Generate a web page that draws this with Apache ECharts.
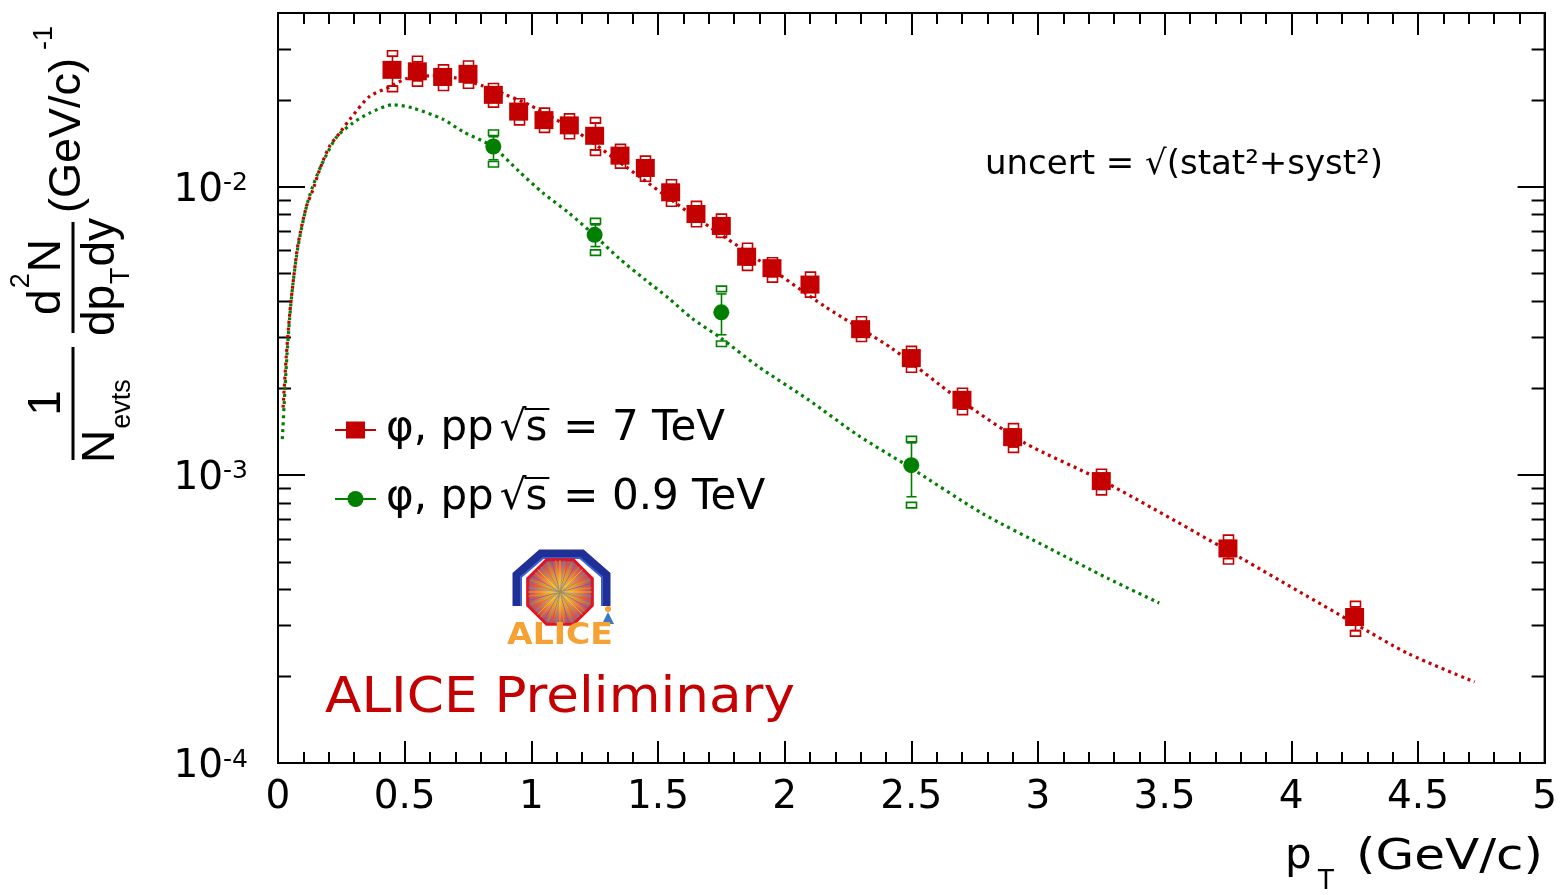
<!DOCTYPE html>
<html>
<head>
<meta charset="utf-8">
<script src="https://cdn.jsdelivr.net/npm/echarts@6/dist/echarts.min.js"></script>
<style>
  html, body { margin: 0; padding: 0; background: #fff; }
  #chart { width: 1560px; height: 895px; }
</style>
</head>
<body>
<div id="chart"></div>
<script>
// phi-meson transverse-momentum spectra in pp collisions, 7 TeV and 0.9 TeV

// --- pp at 7 TeV: bin centres, yields and total uncertainty limits ---
const ptBins7 = [0.45, 0.55, 0.65, 0.75, 0.85, 0.95, 1.05, 1.15, 1.25, 1.35, 1.45, 1.55,
                 1.65, 1.75, 1.85, 1.95, 2.1, 2.3, 2.5, 2.7, 2.9, 3.25, 3.75, 4.25];
const yield7 = [0.0254, 0.0251, 0.0240, 0.0246, 0.0208, 0.0182, 0.0170, 0.0163, 0.0150, 0.0128, 0.0116, 0.00955,
                0.00803, 0.00730, 0.00571, 0.00521, 0.00457, 0.00320, 0.00254, 0.00182, 0.00135, 0.000951, 0.000555, 0.000321];
const errHi7 = [0.0283, 0.0271, 0.0253, 0.0261, 0.0218, 0.0193, 0.0179, 0.0171, 0.0166, 0.0134, 0.0122, 0.0101,
                0.00850, 0.00768, 0.00608, 0.00542, 0.00483, 0.00338, 0.00267, 0.00191, 0.00144, 0.00100, 0.000591, 0.000348];
const errLo7 = [0.0223, 0.0233, 0.0225, 0.0229, 0.0197, 0.0171, 0.0161, 0.0153, 0.0134, 0.0121, 0.0109, 0.00893,
                0.00758, 0.00696, 0.00535, 0.00487, 0.00432, 0.00303, 0.00237, 0.00169, 0.00125, 0.000890, 0.000512, 0.000288];

// --- pp at 0.9 TeV: statistical limits and combined (stat+syst) limits ---
const ptBins09 = [0.85, 1.25, 1.75, 2.5];
const yield09 = [0.01377, 0.00680, 0.00366, 0.00108];
const statHi09 = [0.01488, 0.00736, 0.00424, 0.00129];
const statLo09 = [0.01238, 0.00619, 0.00306, 0.000839];
const totHi09 = [0.01503, 0.00742, 0.00432, 0.00130];
const totLo09 = [0.01221, 0.00603, 0.00291, 0.000802];

// --- fitted spectra (dotted curves) ---
const fitPt7 = [0.02, 0.033, 0.046, 0.059, 0.079, 0.112, 0.138, 0.164, 0.203, 0.243, 0.282, 0.361, 0.44, 0.506,
                0.61, 0.703, 0.807, 0.899, 0.991, 1.188, 1.372, 1.634, 1.897, 2.16, 2.422, 2.684, 2.947, 3.25,
                3.746, 4.249, 4.46, 4.724];
const fitY7 = [0.00171, 0.0026, 0.0036, 0.0046, 0.0063, 0.00852, 0.00974, 0.01143, 0.01377, 0.01532, 0.01704,
               0.02054, 0.02213, 0.02366, 0.02424, 0.02379, 0.02238, 0.02082, 0.01922, 0.01532, 0.01173, 0.00798,
               0.00556, 0.00383, 0.00275, 0.00184, 0.00129, 0.000958, 0.000548, 0.000305, 0.00024, 0.000191];
const fitPt09 = [0.017, 0.033, 0.046, 0.059, 0.079, 0.112, 0.137, 0.17, 0.23, 0.295, 0.361, 0.453, 0.532, 0.65,
                 0.729, 0.847, 0.952, 1.044, 1.149, 1.247, 1.346, 1.451, 1.542, 1.634, 1.746, 1.897, 2.094, 2.29,
                 2.488, 2.781, 3.046, 3.276, 3.479];
const fitY09 = [0.00133, 0.0024, 0.0035, 0.0046, 0.0062, 0.0085, 0.0100, 0.0118, 0.0148, 0.0166, 0.01798, 0.01922,
                0.01872, 0.01714, 0.01552, 0.01377, 0.01127, 0.00953, 0.00809, 0.0068, 0.00564, 0.00474, 0.0041,
                0.00349, 0.00299, 0.00237, 0.00182, 0.00137, 0.00107, 0.000734, 0.000555, 0.000437, 0.000359];

// --- axes ---
const xMin = 0, xMax = 5, xStep = 0.5;
const yMin = 1e-4, yMax = 0.04;
const yMinorTicks = [2e-4, 3e-4, 4e-4, 5e-4, 6e-4, 7e-4, 8e-4, 9e-4,
                     2e-3, 3e-3, 4e-3, 5e-3, 6e-3, 7e-3, 8e-3, 9e-3,
                     2e-2, 3e-2];

const RED = '#c40000';
const GREEN = '#007f00';
const FONT = '"DejaVu Sans", sans-serif';
const TFONT = '"Liberation Sans", Arial, sans-serif';

const chart = echarts.init(document.getElementById('chart'), null, { renderer: 'canvas' });

// vertical uncertainty bar: line with caps at the stat limits, open boxes beyond the total limits
function errorBar(params, api) {
  const x = api.value(0);
  const p = api.coord([x, api.value(1)]);
  const sLo = api.coord([x, api.value(2)])[1];
  const sHi = api.coord([x, api.value(3)])[1];
  const tLo = api.coord([x, api.value(4)])[1];
  const tHi = api.coord([x, api.value(5)])[1];
  const color = api.visual('color');
  const cx = Math.round(p[0]) + 0.5;
  const hw = 5, bh = 5.5;
  const st = { stroke: color, lineWidth: 1.6, fill: null };
  return {
    type: 'group',
    children: [
      { type: 'line', shape: { x1: cx, y1: sHi, x2: cx, y2: sLo }, style: st },
      { type: 'line', shape: { x1: cx - hw, y1: sHi, x2: cx + hw, y2: sHi }, style: st },
      { type: 'line', shape: { x1: cx - hw, y1: sLo, x2: cx + hw, y2: sLo }, style: st },
      { type: 'rect', shape: { x: cx - hw, y: tHi - bh, width: 2 * hw, height: bh }, style: st },
      { type: 'rect', shape: { x: cx - hw, y: tLo, width: 2 * hw, height: bh }, style: st }
    ]
  };
}

// logarithmic minor ticks on both vertical frame edges
function minorLogTick(params, api) {
  const cs = params.coordSys;
  const y = Math.round(api.coord([xMin, api.value(1)])[1]) + 0.5;
  const len = 13;
  const st = { stroke: '#000', lineWidth: 2 };
  return {
    type: 'group',
    children: [
      { type: 'line', shape: { x1: cs.x, y1: y, x2: cs.x + len, y2: y }, style: st },
      { type: 'line', shape: { x1: cs.x + cs.width - len, y1: y, x2: cs.x + cs.width, y2: y }, style: st }
    ]
  };
}

const data7 = ptBins7.map((x, i) => [x, yield7[i], errLo7[i], errHi7[i], errLo7[i], errHi7[i]]);
const data09 = ptBins09.map((x, i) => [x, yield09[i], statLo09[i], statHi09[i], totLo09[i], totHi09[i]]);
const fit7 = fitPt7.map((x, i) => [x, fitY7[i]]);
const fit09 = fitPt09.map((x, i) => [x, fitY09[i]]);

// ---------- text helpers ----------
const mctx = document.createElement('canvas').getContext('2d');
function tw(str, font) { mctx.font = font; return mctx.measureText(str).width; }
function fontStr(size, fam, weight) { return (weight ? weight + ' ' : '') + size + 'px ' + fam; }
// text with its alphabetic baseline at y (glyph middle sits ~0.346em above baseline)
function txt(str, x, baseline, size, fam, color, extra) {
  const el = Object.assign({
    type: 'text', x: x, y: baseline - 0.346 * size, silent: true,
    style: {
      text: str, font: fontStr(size, fam, extra && extra.weight), fill: color || '#000',
      align: 'left', verticalAlign: 'middle', textAlign: 'left', textVerticalAlign: 'middle'
    }
  }, extra && extra.el ? extra.el : {});
  return el;
}
// text stretched horizontally so it spans the given width
function fitTxt(str, x, baseline, size, fam, color, width, weight) {
  const w = tw(str, fontStr(size, fam, weight));
  return txt(str, x, baseline, size, fam, color, { weight: weight, el: { scaleX: width / w } });
}

// ---------- legend ----------
function legendRow(yc, baseline, marker, color, tail) {
  const F = 42;
  const f = fontStr(F, FONT);
  const els = [];
  els.push({ type: 'line', silent: true, shape: { x1: 335, y1: yc, x2: 376, y2: yc }, style: { stroke: color, lineWidth: 2 } });
  if (marker === 'rect') {
    els.push({ type: 'rect', silent: true, shape: { x: 346, y: yc - 8.5, width: 19, height: 17 }, style: { fill: color } });
  } else {
    els.push({ type: 'circle', silent: true, shape: { cx: 355.5, cy: yc, r: 8 }, style: { fill: color } });
  }
  let x = 386;
  const head = 'φ, pp';
  els.push(txt(head, x, baseline, F, FONT));
  x += tw(head, f) + 6;
  els.push(txt('√', x, baseline, F, FONT));
  const sx = x + tw('√', f) - 1;
  els.push(txt('s', sx, baseline, F, FONT));
  const sEnd = sx + tw('s', f);
  els.push({ type: 'line', silent: true, shape: { x1: sx - 1, y1: baseline - 35, x2: sEnd + 2, y2: baseline - 35 }, style: { stroke: '#000', lineWidth: 2 } });
  els.push(txt(tail, sEnd + 16, baseline, F, FONT));
  return els;
}

// ---------- rotated y-axis title ----------
function yTitle() {
  // local frame of the rotated group: local x = -screenY, local y = screenX
  const g = [];
  const F = 46, S = 27;
  const put = (str, sy, sx, size, align) => ({
    type: 'text', x: -sy, y: sx - 0.346 * size, silent: true,
    style: { text: str, font: fontStr(size, TFONT), fill: '#000', align: align || 'left', verticalAlign: 'middle',
             textAlign: align || 'left', textVerticalAlign: 'middle' }
  });
  const fW = (s, size) => tw(s, fontStr(size, TFONT));
  // 1 / N_evts
  g.push(put('1', 403, 63, F, 'center'));
  g.push({ type: 'line', silent: true, shape: { x1: -460, y1: 73, x2: -347, y2: 73 }, style: { stroke: '#000', lineWidth: 3 } });
  let sy = 463;
  g.push(put('N', sy, 117, F)); sy -= fW('N', F) + 1;
  g.push(put('evts', sy, 132, S));
  // d2N / dpT dy
  g.push({ type: 'line', silent: true, shape: { x1: -333, y1: 73, x2: -222, y2: 73 }, style: { stroke: '#000', lineWidth: 3 } });
  const numW = fW('d', F) + fW('2', S) + fW('N', F) + 2;
  sy = 277 + numW / 2;
  g.push(put('d', sy, 63, F)); sy -= fW('d', F) + 1;
  g.push(put('2', sy, 31, S)); sy -= fW('2', S) + 1;
  g.push(put('N', sy, 63, F));
  const denW = fW('dp', F) + fW('T', S) + fW('dy', F) + 2;
  sy = 277 + denW / 2;
  g.push(put('dp', sy, 117, F)); sy -= fW('dp', F) + 1;
  g.push(put('T', sy, 131, S)); sy -= fW('T', S) + 1;
  g.push(put('dy', sy, 117, F));
  // (GeV/c)^-1
  g.push(put('(GeV/c)', 213, 83, 45));
  g.push(put('-1', 50, 54, S));
  return { type: 'group', x: 0, y: 0, rotation: Math.PI / 2, children: g };
}

// ---------- experiment logo ----------
function logo() {
  const cx = 560, cy = 592, r = 35;
  const els = [];
  // outer hood
  els.push({ type: 'polyline', silent: true,
    shape: { points: [[517, 606], [517, 575], [541, 554], [582, 554], [606, 575], [606, 606]] },
    style: { stroke: '#1f2f96', lineWidth: 9, fill: null, lineJoin: 'miter' } });
  els.push({ type: 'polyline', silent: true,
    shape: { points: [[521, 606], [521, 577], [543, 558], [580, 558], [602, 577], [602, 606]] },
    style: { stroke: '#3a5fd0', lineWidth: 2, fill: null } });
  // octagonal detector face
  const oct = [];
  for (let k = 0; k < 8; k++) {
    const a = Math.PI / 8 + k * Math.PI / 4;
    oct.push([cx + r * Math.cos(a), cy + r * Math.sin(a)]);
  }
  els.push({ type: 'polygon', silent: true, shape: { points: oct },
    style: {
      fill: new echarts.graphic.RadialGradient(0.5, 0.5, 0.62, [
        { offset: 0, color: '#ffe14a' }, { offset: 0.3, color: '#f7a838' },
        { offset: 0.62, color: '#d8604a' }, { offset: 1, color: '#4a4fc8' }]),
      stroke: '#e4141e', lineWidth: 3
    } });
  const rayCols = ['#f7d21e', '#3aa0e6', '#e8452a', '#7cc43a', '#5050d8', '#f59a1e'];
  for (let k = 0; k < 48; k++) {
    const a = k * Math.PI * 2 / 48;
    els.push({ type: 'line', silent: true,
      shape: { x1: cx, y1: cy, x2: cx + (r - 3) * Math.cos(a), y2: cy + (r - 3) * Math.sin(a) },
      style: { stroke: rayCols[k % rayCols.length], lineWidth: 1, opacity: 0.6 } });
  }
  // small figure at the corner
  els.push({ type: 'circle', silent: true, shape: { cx: 608, cy: 609, r: 3 }, style: { fill: '#f4a13a' } });
  els.push({ type: 'polygon', silent: true, shape: { points: [[608, 612], [602, 624], [614, 624]] }, style: { fill: '#3c78c8' } });
  els.push(fitTxt('ALICE', 507, 647, 31, FONT, '#f6a134', 106, 'bold'));
  return els;
}

function buildGraphics() {
  let g = [];
  g = g.concat(legendRow(430, 444, 'rect', RED, '= 7 TeV'));
  g = g.concat(legendRow(499, 513, 'circle', GREEN, '= 0.9 TeV'));
  g = g.concat(logo());
  g.push(fitTxt('ALICE Preliminary', 325, 716, 49, FONT, RED, 470));
  g.push(fitTxt('uncert = √(stat²+syst²)', 985, 177, 34, FONT, '#000', 398));
  g.push(yTitle());
  // x-axis title: p_T (GeV/c)
  g.push(txt('p', 1285, 872, 42, FONT));
  g.push(txt('T', 1318, 891, 26, FONT));
  g.push(fitTxt('(GeV/c)', 1356, 873, 42, FONT, '#000', 187));
  return g;
}

const axisCommon = {
  axisLine: { show: true, onZero: false, lineStyle: { color: '#000', width: 2 } },
  splitLine: { show: false }
};

const option = {
  animation: false,
  backgroundColor: '#fff',
  grid: { left: 278, right: 12, top: 13, bottom: 132, show: true, borderColor: '#000', borderWidth: 2, backgroundColor: 'transparent' },
  xAxis: [
    Object.assign({
      type: 'value', min: xMin, max: xMax, interval: xStep, position: 'bottom',
      axisTick: { show: true, inside: true, length: 22, lineStyle: { color: '#000', width: 2 } },
      minorTick: { show: true, splitNumber: 5, length: 11, lineStyle: { color: '#000', width: 2 } },
      axisLabel: { show: true, margin: 15, fontFamily: 'DejaVu Sans', fontSize: 39, color: '#000',
        formatter: v => String(v) }
    }, axisCommon),
    Object.assign({
      type: 'value', min: xMin, max: xMax, interval: xStep, position: 'top',
      axisTick: { show: true, inside: true, length: 22, lineStyle: { color: '#000', width: 2 } },
      minorTick: { show: true, splitNumber: 5, length: 11, lineStyle: { color: '#000', width: 2 } },
      axisLabel: { show: false }
    }, axisCommon)
  ],
  yAxis: [
    Object.assign({
      type: 'log', logBase: 10, min: yMin, max: yMax, position: 'left',
      axisTick: { show: true, inside: true, length: 27, lineStyle: { color: '#000', width: 2 } },
      axisLabel: {
        show: true, margin: 30, padding: [8, 0, 0, 0],
        formatter: v => {
          const e = Math.log10(v);
          if (Math.abs(e - Math.round(e)) > 1e-6) return '';
          return '{b|10}{s|' + Math.round(e) + '}';
        },
        rich: {
          b: { fontFamily: 'DejaVu Sans', fontSize: 39, color: '#000' },
          s: { fontFamily: 'DejaVu Sans', fontSize: 25, color: '#000', verticalAlign: 'top' }
        }
      }
    }, axisCommon),
    Object.assign({
      type: 'log', logBase: 10, min: yMin, max: yMax, position: 'right',
      axisTick: { show: true, inside: true, length: 27, lineStyle: { color: '#000', width: 2 } },
      axisLabel: { show: false }
    }, axisCommon)
  ],
  series: [
    {
      type: 'custom', name: 'minorTicks', silent: true, clip: false, z: 1,
      renderItem: minorLogTick,
      data: yMinorTicks.map(v => [xMin, v])
    },
    {
      type: 'line', name: 'fit 7 TeV', data: fit7, showSymbol: false, smooth: 0.25, z: 2, silent: true,
      lineStyle: { color: RED, width: 3.2, type: [3, 4] }
    },
    {
      type: 'line', name: 'fit 0.9 TeV', data: fit09, showSymbol: false, smooth: 0.25, z: 2, silent: true,
      lineStyle: { color: GREEN, width: 3.2, type: [3, 4] }
    },
    {
      type: 'custom', name: 'unc 7 TeV', renderItem: errorBar, data: data7, z: 3, silent: true,
      itemStyle: { color: RED }, encode: { x: 0, y: 1 }
    },
    {
      type: 'custom', name: 'unc 0.9 TeV', renderItem: errorBar, data: data09, z: 3, silent: true,
      itemStyle: { color: GREEN }, encode: { x: 0, y: 1 }
    },
    {
      type: 'scatter', name: 'φ, pp √s = 7 TeV', data: ptBins7.map((x, i) => [x, yield7[i]]),
      symbol: 'rect', symbolSize: [19, 18], z: 4, itemStyle: { color: RED, opacity: 1 }
    },
    {
      type: 'scatter', name: 'φ, pp √s = 0.9 TeV', data: ptBins09.map((x, i) => [x, yield09[i]]),
      symbol: 'circle', symbolSize: 16, z: 4, itemStyle: { color: GREEN, opacity: 1 }
    }
  ],
  graphic: { elements: buildGraphics() }
};

chart.setOption(option);
</script>
</body>
</html>
